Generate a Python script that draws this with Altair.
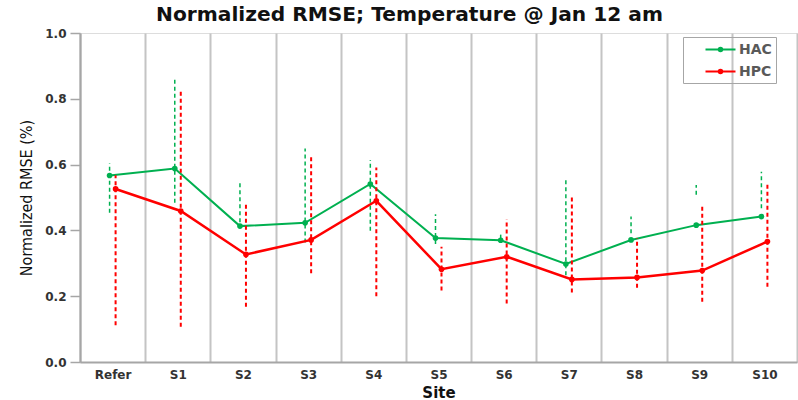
import altair as alt
import pandas as pd

sites = ["Refer", "S1", "S2", "S3", "S4", "S5", "S6", "S7", "S8", "S9", "S10"]
hac = [0.567, 0.588, 0.413, 0.423, 0.541, 0.377, 0.370, 0.298, 0.371, 0.416, 0.442]
hac_lo = [0.454, 0.484, 0.425, 0.363, 0.399, 0.359, 0.375, 0.264, 0.391, 0.508, 0.467]
hac_hi = [0.604, 0.862, 0.546, 0.649, 0.614, 0.449, 0.391, 0.558, 0.442, 0.538, 0.578]
hpc = [0.526, 0.459, 0.327, 0.371, 0.490, 0.282, 0.320, 0.251, 0.257, 0.278, 0.366]
hpc_lo = [0.112, 0.107, 0.168, 0.270, 0.200, 0.217, 0.178, 0.211, 0.226, 0.183, 0.229]
hpc_hi = [0.568, 0.825, 0.484, 0.629, 0.591, 0.350, 0.434, 0.508, 0.376, 0.479, 0.543]

series = ["HAC", "HPC"]
colors = ["#00b050", "#ff0000"]

rows = []
for i, s in enumerate(sites):
    rows.append({"site": s, "series": "HAC", "v": hac[i], "lo": hac_lo[i], "hi": hac_hi[i]})
    rows.append({"site": s, "series": "HPC", "v": hpc[i], "lo": hpc_lo[i], "hi": hpc_hi[i]})
df = pd.DataFrame(rows)

x_enc = alt.X("site:N", sort=sites, title="Site",
              scale=alt.Scale(paddingInner=0, paddingOuter=0),
              axis=alt.Axis(labelAngle=0, grid=True, tickBand="extent", ticks=False,
                            gridColor="#c4c4c4", gridWidth=2,
                            domainColor="#a6a6a6", domainWidth=2,
                            labelFont="DejaVu Sans", labelFontWeight="bold", labelFontSize=12,
                            labelColor="#333333", labelPadding=7,
                            titleFont="DejaVu Sans", titleFontWeight="bold", titleFontSize=15,
                            titleColor="#111111", titlePadding=5))
y_enc = alt.Y("v:Q", title="Normalized RMSE (%)",
              scale=alt.Scale(domain=[0, 1], nice=False),
              axis=alt.Axis(values=[0, 0.2, 0.4, 0.6, 0.8, 1.0], format=".1f", grid=False,
                            tickSize=10, tickColor="#a6a6a6", tickWidth=1.5,
                            domainColor="#a6a6a6", domainWidth=2,
                            labelFont="DejaVu Sans", labelFontWeight="bold", labelFontSize=12,
                            labelColor="#333333", labelPadding=4,
                            titleFont="DejaVu Sans Condensed, Liberation Sans Narrow, Roboto",
                            titleFontSize=16, titleFontWeight="normal",
                            titleColor="#111111", titlePadding=10))
color_enc = alt.Color("series:N", scale=alt.Scale(domain=series, range=colors),
                      legend=alt.Legend(title=None, orient="none", legendX=603, legendY=4,
                                        symbolType="M-2,0H2M-0.24,0A0.24,0.24,0,1,1,0.24,0A0.24,0.24,0,1,1,-0.24,0Z",
                                        symbolSize=225, symbolStrokeWidth=2,
                                        labelFont="DejaVu Sans", labelFontWeight="bold",
                                        labelFontSize=14, labelColor="#595959",
                                        labelExpr="datum.label + '   '",
                                        strokeColor="#a6a6a6", padding=4, rowPadding=6,
                                        symbolOffset=25, labelOffset=10))

layers = []
specs = [("HAC", -3, 2, 1.5, [4, 3]), ("HPC", 3, 2.5, 2, [4, 3])]
for name, off, lw, ew, dash in specs:
    base = alt.Chart(df).transform_filter(alt.datum.series == name)
    rule = base.mark_rule(xOffset=off, strokeWidth=ew, strokeDash=dash).encode(
        x=x_enc, y=alt.Y("lo:Q", scale=alt.Scale(domain=[0, 1], nice=False)), y2="hi:Q",
        color=color_enc)
    line = base.mark_line(xOffset=off, strokeWidth=lw).encode(x=x_enc, y=y_enc, color=color_enc)
    pts = base.mark_point(xOffset=off, filled=True, size=32, opacity=1).encode(
        x=x_enc, y=alt.Y("v:Q"), color=color_enc)
    layers += [rule, line, pts]

chart = alt.layer(*layers).properties(
    width=717, height=329,
    title=alt.Title("Normalized RMSE; Temperature @ Jan 12 am", font="DejaVu Sans",
                    fontSize=20.2, fontWeight="bold", color="#111111", anchor="middle",
                    dx=-29, offset=2),
    padding={"left": 80, "top": 33, "right": 1, "bottom": 38},
    autosize=alt.AutoSizeParams(type="none"),
).configure_view(stroke="#a6a6a6", strokeWidth=2).configure(background="white")

chart.save("out.html", embed_options={"renderer": "svg", "actions": False})
